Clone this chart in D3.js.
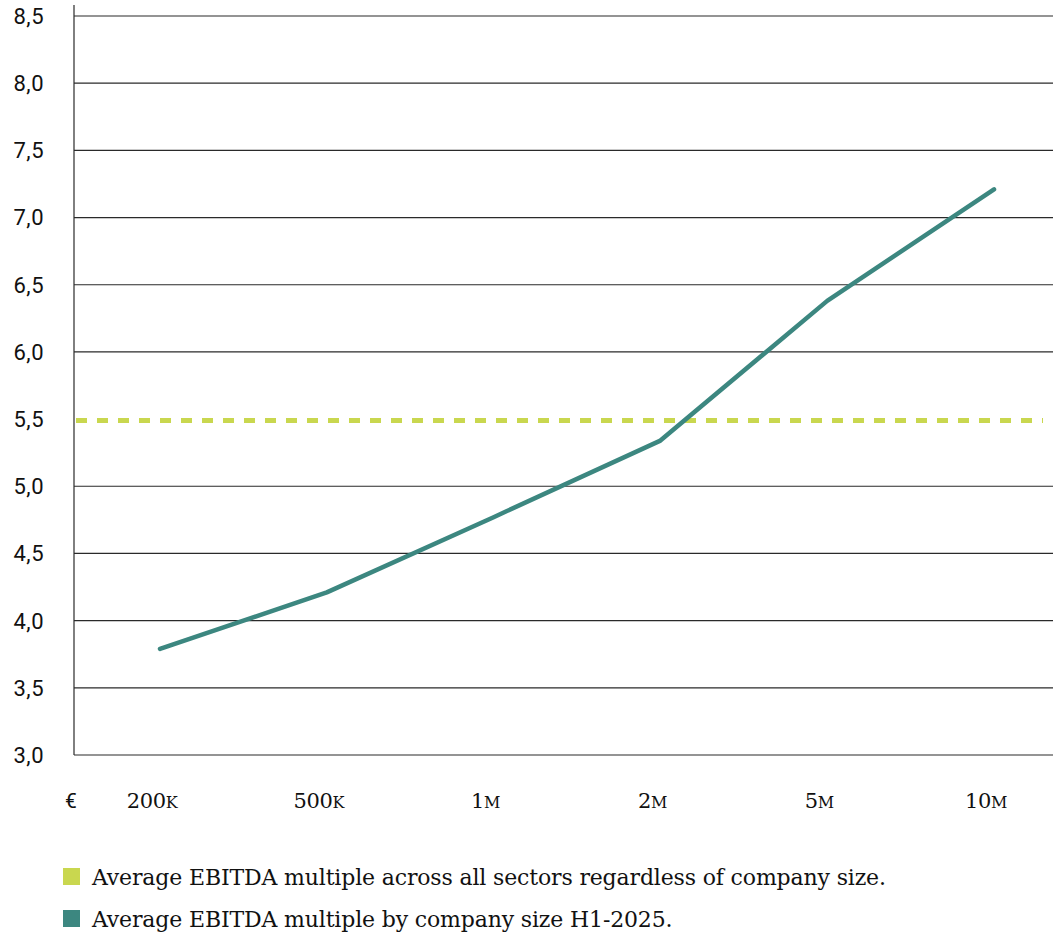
<!DOCTYPE html>
<html><head><meta charset="utf-8">
<script src="https://cdn.jsdelivr.net/npm/d3@7"></script>
<style>body{margin:0;background:#fff}svg{display:block}</style>
</head><body>
<svg id="c" width="1053" height="932"></svg>
<script>
const categories = ["200", "500", "1", "2", "5", "10"];
const suffixes = ["K", "K", "M", "M", "M", "M"];
const sizeMultiple = [3.79, 4.21, 4.77, 5.34, 6.38, 7.21];
const averageAll = 5.49;
const yTicks = [3.0, 3.5, 4.0, 4.5, 5.0, 5.5, 6.0, 6.5, 7.0, 7.5, 8.0, 8.5];
const legendLabels = [
  "Average EBITDA multiple across all sectors regardless of company size.",
  "Average EBITDA multiple by company size H1-2025."
];
const colors = ["#c9d74f", "#3c8780"];

const svg = d3.select("#c");
const plotLeft = 74, plotRight = 1053;
const y = d3.scaleLinear().domain([3, 8.5]).range([755, 16]);
const x = d3.scalePoint().domain(categories).range([160, 994]);

// gridlines (the 5.5 line is covered by the dashed average line)
svg.append("g").selectAll("line").data(yTicks.filter(d => d > 3 && d !== 5.5)).join("line")
  .attr("x1", plotLeft).attr("x2", plotRight)
  .attr("y1", d => y(d)).attr("y2", d => y(d))
  .attr("stroke", "#2a2a2a").attr("stroke-width", 1.2);

// axes lines
svg.append("line").attr("x1", plotLeft).attr("x2", plotRight)
  .attr("y1", y(3)).attr("y2", y(3)).attr("stroke", "#2a2a2a").attr("stroke-width", 1.2);
svg.append("line").attr("x1", plotLeft).attr("x2", plotLeft)
  .attr("y1", 5).attr("y2", y(3)).attr("stroke", "#2a2a2a").attr("stroke-width", 1.2);

// y labels
svg.append("g").selectAll("text").data(yTicks).join("text")
  .attr("x", 44).attr("y", d => y(d)).attr("dy", "0.36em")
  .attr("text-anchor", "end")
  .attr("font-family", "Roboto, sans-serif").attr("font-size", 22).attr("fill", "#111")
  .attr("letter-spacing", 0.5)
  .text(d => d.toFixed(1).replace(".", ","));

// x labels
svg.append("text").attr("x", 71).attr("y", 808).attr("text-anchor", "middle")
  .attr("font-family", "Roboto, sans-serif").attr("font-size", 21).attr("fill", "#111").text("€");
const xl = svg.append("g").selectAll("text").data(categories).join("text")
  .attr("x", d => x(d) - 8).attr("y", 808).attr("text-anchor", "middle")
  .attr("font-family", "'DejaVu Serif', serif").attr("font-size", 21).attr("fill", "#111")
  .attr("letter-spacing", -0.4);
xl.append("tspan").text(d => d);
xl.append("tspan").attr("font-size", 16).text((d, i) => suffixes[i]);

// average dashed line
svg.append("line").attr("x1", 76).attr("x2", 1043)
  .attr("y1", y(averageAll)).attr("y2", y(averageAll))
  .attr("stroke", colors[0]).attr("stroke-width", 5)
  .attr("stroke-dasharray", "11,10");

// size line
svg.append("path").datum(sizeMultiple)
  .attr("d", d3.line().x((d, i) => x(categories[i])).y(d => y(d)))
  .attr("fill", "none").attr("stroke", colors[1]).attr("stroke-width", 4.5)
  .attr("stroke-linecap", "round").attr("stroke-linejoin", "round");

// legend
const lg = svg.append("g").selectAll("g").data(legendLabels).join("g")
  .attr("transform", (d, i) => `translate(63,${868 + i * 42})`);
lg.append("rect").attr("width", 17).attr("height", 17).attr("fill", (d, i) => colors[i]);
lg.append("text").attr("x", 29).attr("y", 17)
  .attr("font-family", "'DejaVu Serif', serif").attr("font-size", 22).attr("fill", "#111")
  .attr("letter-spacing", -0.15)
  .text(d => d);
</script>
</body></html>
